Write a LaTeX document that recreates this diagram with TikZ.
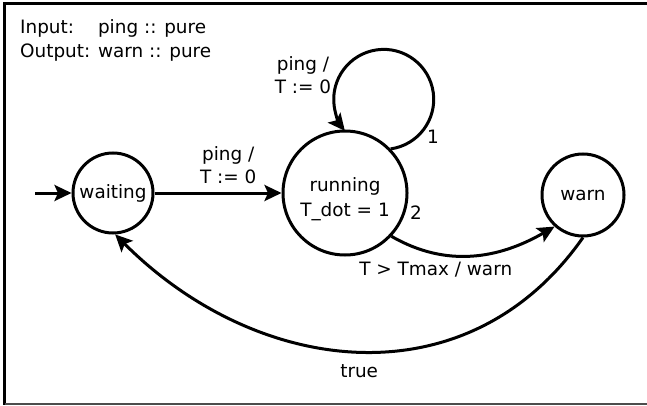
\documentclass[tikz,border=0pt]{standalone}
\usepackage{fontspec}
\setmainfont{DejaVu Sans}
\usetikzlibrary{arrows.meta}

\tikzset{
  state/.style={circle, draw, line width=3pt, inner sep=1pt, align=center},
  trans/.style={line width=3pt, -{Stealth[length=17pt, width=16pt, inset=3.5pt]}},
  prio/.style={inner sep=0pt}
}

\begin{document}
\begin{tikzpicture}[x=1pt, y=1pt, font=\fontsize{18.4}{23}\selectfont]
    \useasboundingbox (0,0) rectangle (647,405);
    % window frame
    \draw[line width=3pt] (647,401.5) -- (4.5,401.5) -- (4.5,0);
    \draw[line width=1.3pt, black!70] (4.5,1) -- (647,1);

    % interface
    \node[anchor=north west, inner sep=0pt, align=left] (iface) at (20,386)
        {Input:\hspace{24pt}ping :: pure\\[1.5pt]Output: warn :: pure};

    % states
    \node[state, minimum size=80pt] (waiting) at (113,212) {waiting};
    \node[state, minimum size=124pt] (running) at (345,212) {\rule{0pt}{27pt}running\\[2pt]T\_dot = 1};
    \node[state, minimum size=82pt] (warn) at (583,210) {warn};

    % transitions
    \coordinate (init) at (35,212);
    \draw[trans] (init) -- (waiting);
    \draw[trans] (waiting) -- node[pos=0.58, above=8pt, inner sep=0pt, align=center] (go) {ping /\\T := 0} (running);

    \draw[trans] (running.44) arc[start angle=-82, end angle=219, radius=50];
    \node[anchor=south, inner sep=0pt, align=center] (reset) at (303,311) {ping /\\T := 0};
    \node[prio] (p1) at (433,268) {1};
    \node[prio] (p2) at (416,192) {2};

    \draw[trans] (running.-43) to[out=-30, in=-150] node[pos=0.27, below=4pt] (alarm) {T > Tmax / warn} (warn.228);
    \draw[trans] (warn.-90) to[out=-125, in=-45, looseness=1.1] node[below=8pt] (back) {true} (waiting.-87);
\end{tikzpicture}
\end{document}
